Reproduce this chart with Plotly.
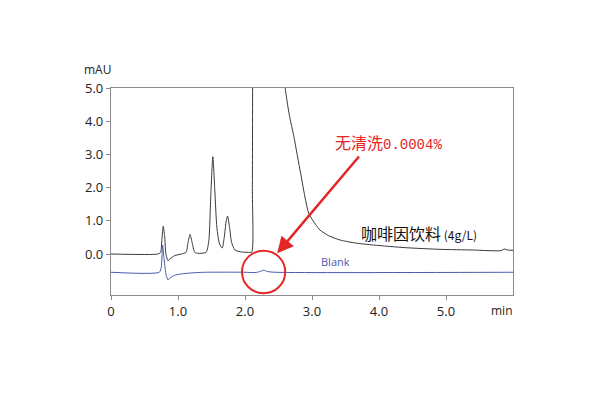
import plotly.graph_objects as go

# Coffee drink (4g/L) chromatogram
sample_time = [0.0, 0.70, 0.74, 0.76, 0.78, 0.80, 0.82, 0.85, 0.88, 0.95, 1.05, 1.12, 1.15, 1.18, 1.21, 1.25,
               1.30, 1.42, 1.46, 1.49, 1.52, 1.55, 1.58, 1.62, 1.66, 1.69, 1.72, 1.74, 1.77, 1.80, 1.85,
               1.95, 2.05, 2.10, 2.11, 2.12, 2.30, 2.50, 2.58, 2.60, 2.66, 2.73, 2.83, 2.95, 3.05, 3.12,
               3.25, 3.42, 3.65, 3.92, 4.40, 4.91, 5.40, 5.82, 5.87, 5.92, 6.0]
sample_mau = [0.0, 0.0, 0.05, 0.45, 0.84, 0.55, 0.0, -0.2, -0.15, -0.05, 0.0, 0.05, 0.35, 0.59, 0.35, 0.05,
              0.02, 0.05, 0.4, 1.8, 2.93, 1.9, 0.8, 0.3, 0.18, 0.5, 1.0, 1.14, 0.8, 0.35, 0.12,
              0.06, 0.05, 0.05, 2.0, 9.0, 40.0, 12.0, 5.6, 5.0, 4.2, 3.53, 2.43, 1.23, 0.9, 0.72,
              0.55, 0.42, 0.33, 0.27, 0.19, 0.14, 0.12, 0.10, 0.15, 0.12, 0.11]

# Blank chromatogram
blank_time = [0.0, 0.72, 0.75, 0.77, 0.79, 0.82, 0.85, 0.88, 0.95, 1.05, 1.2, 1.4, 2.0, 2.15, 2.22, 2.28,
              2.34, 2.45, 6.0]
blank_mau = [-0.55, -0.55, -0.4, 0.27, -0.1, -0.6, -0.78, -0.72, -0.64, -0.6, -0.57, -0.55, -0.55, -0.56,
             -0.53, -0.49, -0.53, -0.55, -0.55]

x_ticks = [0, 1, 2, 3, 4, 5]
x_ticktext = ["0", "1.0", "2.0", "3.0", "4.0", "5.0"]
y_ticks = [0, 1, 2, 3, 4, 5]
y_ticktext = ["0.0", "1.0", "2.0", "3.0", "4.0", "5.0"]

RED = "#e32626"
AXIS = "#8c8c8c"

fig = go.Figure()
fig.add_trace(go.Scatter(x=sample_time, y=sample_mau, mode="lines",
                         line=dict(color="#3a3a3a", width=1, shape="spline", smoothing=0.6),
                         showlegend=False, hoverinfo="skip"))
fig.add_trace(go.Scatter(x=blank_time, y=blank_mau, mode="lines",
                         line=dict(color="#4a5ab0", width=1, shape="spline", smoothing=0.6),
                         showlegend=False, hoverinfo="skip"))

fig.add_shape(type="circle", xref="x", yref="y", x0=1.955, x1=2.60, y0=-1.18, y1=0.10,
              line=dict(color=RED, width=2))

fig.add_annotation(x=2.48, y=0.02, ax=3.72, ay=2.98, axref="x", ayref="y", xref="x", yref="y",
                   text="", showarrow=True, arrowhead=2, arrowsize=1.3, arrowwidth=2.5, arrowcolor=RED)

fig.add_annotation(x=3.31, y=3.38, xref="x", yref="y", xanchor="left", yanchor="middle",
                   text="无清洗<span style='font-family:Liberation Mono;font-size:14px'>0.0004%</span>",
                   showarrow=False, font=dict(family="Noto Sans CJK SC", size=16, color=RED))
fig.add_annotation(x=3.70, y=0.63, xref="x", yref="y", xanchor="left", yanchor="middle",
                   text="咖啡因饮料<span style='font-size:12px'> (4g/L)</span>",
                   showarrow=False, font=dict(family="Noto Sans CJK SC", size=16, color="#111"))
fig.add_annotation(x=3.35, y=-0.24, xref="x", yref="y", text="Blank", showarrow=False,
                   font=dict(family="Open Sans", size=11, color="#4a5ab0"))
fig.add_annotation(x=-0.034, y=1.09, xref="paper", yref="paper", xanchor="center", yanchor="middle",
                   text="mAU", showarrow=False, font=dict(family="Open Sans", size=12, color="#222"))
fig.add_annotation(x=0.973, y=-0.077, xref="paper", yref="paper", xanchor="center", yanchor="middle",
                   text="min", showarrow=False, font=dict(family="Open Sans", size=12, color="#222"))

fig.update_xaxes(range=[0, 6], tickvals=x_ticks, ticktext=x_ticktext, ticks="outside", ticklen=4,
                 tickcolor=AXIS, showline=True, linecolor=AXIS, linewidth=1.3, mirror=True,
                 showgrid=False, zeroline=False, tickfont=dict(family="Open Sans", size=13, color="#222"))
fig.update_yaxes(range=[-1.235, 5.0], tickvals=y_ticks, ticktext=y_ticktext, ticks="outside", ticklen=4,
                 tickcolor=AXIS, showline=True, linecolor=AXIS, linewidth=1.3, mirror=True,
                 showgrid=False, zeroline=False, tickfont=dict(family="Open Sans", size=13, color="#222"))

fig.update_layout(width=600, height=400, margin=dict(l=103, r=95, t=80, b=113),
                  paper_bgcolor="white", plot_bgcolor="white")

fig.write_html("out.html")
